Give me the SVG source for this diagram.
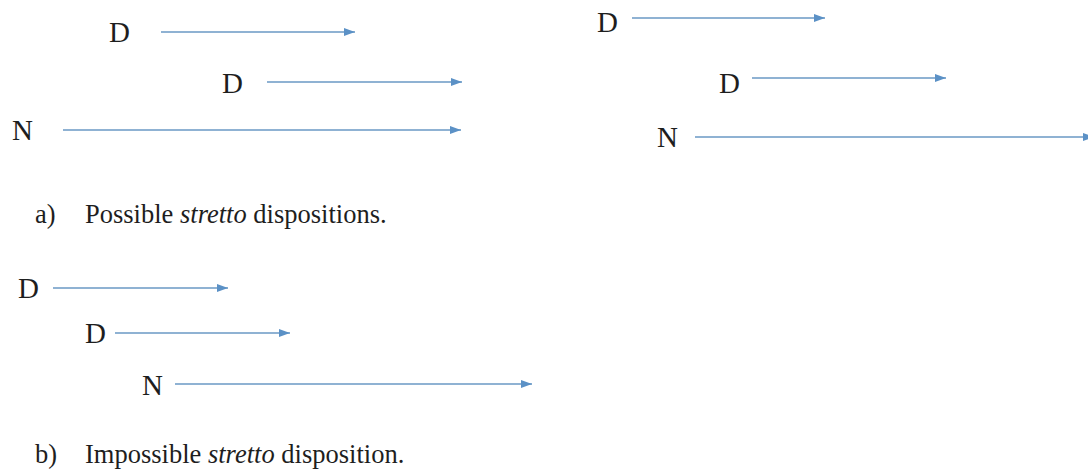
<svg xmlns="http://www.w3.org/2000/svg" width="1088" height="471" viewBox="0 0 1088 471">
<style>
.lbl{font-family:"Liberation Serif","Times New Roman",serif;font-size:29px;fill:#1e1e1e}
.cap{font-family:"Liberation Serif","Times New Roman",serif;font-size:26.5px;fill:#1e1e1e}
.it{font-style:italic}
.arr{stroke:#6a98c4;stroke-width:1.6;fill:none;marker-end:url(#ah)}
</style>
<defs>
<marker id="ah" markerUnits="userSpaceOnUse" markerWidth="12" markerHeight="9" refX="11" refY="4" orient="auto">
<path d="M0,0 L11,4 L0,8 z" fill="#5b91c6"/>
</marker>
</defs>
<rect width="1088" height="471" fill="#ffffff"/>
<g id="connectors">
<line class="arr" x1="161" y1="32" x2="355" y2="32"/>
<line class="arr" x1="267" y1="82" x2="462" y2="82"/>
<line class="arr" x1="63" y1="130" x2="461" y2="130"/>
<line class="arr" x1="632" y1="18" x2="825" y2="18"/>
<line class="arr" x1="752" y1="78" x2="946" y2="78"/>
<line class="arr" x1="695" y1="137" x2="1094" y2="137"/>
<line class="arr" x1="53" y1="288" x2="228" y2="288"/>
<line class="arr" x1="115" y1="333" x2="290" y2="333"/>
<line class="arr" x1="175" y1="384" x2="532" y2="384"/>
</g>
<g id="a1-D1"><text class="lbl" x="109" y="42">D</text></g>
<g id="a1-D2"><text class="lbl" x="222" y="93">D</text></g>
<g id="a1-N"><text class="lbl" x="12" y="140">N</text></g>
<g id="a2-D1"><text class="lbl" x="597" y="32">D</text></g>
<g id="a2-D2"><text class="lbl" x="719" y="93">D</text></g>
<g id="a2-N"><text class="lbl" x="657" y="147">N</text></g>
<g id="b-D1"><text class="lbl" x="18" y="298">D</text></g>
<g id="b-D2"><text class="lbl" x="85" y="343">D</text></g>
<g id="b-N"><text class="lbl" x="142" y="395">N</text></g>
<g id="caption-a"><text class="cap" x="35" y="223">a)</text><text class="cap" x="85" y="223">Possible <tspan class="it">stretto</tspan> dispositions.</text></g>
<g id="caption-b"><text class="cap" x="35" y="463">b)</text><text class="cap" x="85" y="463">Impossible <tspan class="it">stretto</tspan> disposition.</text></g>
</svg>
